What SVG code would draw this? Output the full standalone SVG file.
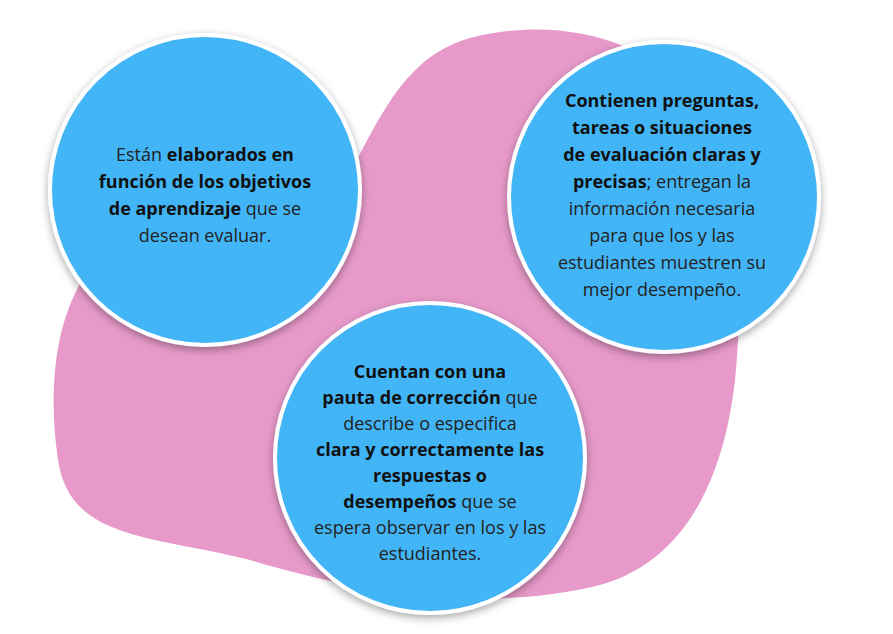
<svg xmlns="http://www.w3.org/2000/svg" width="893" height="634" viewBox="0 0 893 634">
<defs>
<style>
.c{fill:#43B5F6;stroke:#fff;stroke-width:4}
.t{font-family:"Open Sans","Noto Sans",sans-serif;font-size:18px;fill:#222;text-anchor:middle}
.b{font-weight:bold;fill:#111}
</style>
<filter id="sh" x="-20%" y="-20%" width="140%" height="140%"><feDropShadow dx="0" dy="3" stdDeviation="4" flood-color="#000" flood-opacity="0.35"/></filter>
</defs>
<g id="blob">
<path fill="#E79AC9" d="M330,205 C370,150 390,60 470,38 C560,15 640,40 690,90 C740,160 745,280 735,380 C725,470 690,560 600,585 C480,615 350,590 250,560 C150,535 70,540 58,460 C45,370 60,280 120,240 C200,200 290,255 330,205 Z"/>
</g>
<g id="n1">
<circle class="c" cx="205" cy="190" r="155" filter="url(#sh)"/>
<text class="t" y="161"><tspan x="205">Están <tspan class="b">elaborados en</tspan></tspan><tspan x="205" dy="27" class="b">función de los objetivos</tspan><tspan x="205" dy="27"><tspan class="b">de aprendizaje</tspan> que se</tspan><tspan x="205" dy="27">desean evaluar.</tspan></text>
</g>
<g id="n2">
<circle class="c" cx="664" cy="197" r="155" filter="url(#sh)"/>
<text class="t" y="107"><tspan x="662" class="b">Contienen preguntas,</tspan><tspan x="662" dy="27" class="b">tareas o situaciones</tspan><tspan x="662" dy="27" class="b">de evaluación claras y</tspan><tspan x="662" dy="27"><tspan class="b">precisas</tspan>; entregan la</tspan><tspan x="662" dy="27">información necesaria</tspan><tspan x="662" dy="27">para que los y las</tspan><tspan x="662" dy="27">estudiantes muestren su</tspan><tspan x="662" dy="27">mejor desempeño.</tspan></text>
</g>
<g id="n3">
<circle class="c" cx="430" cy="458" r="155" filter="url(#sh)"/>
<text class="t" y="378"><tspan x="430" class="b">Cuentan con una</tspan><tspan x="430" dy="26"><tspan class="b">pauta de corrección</tspan> que</tspan><tspan x="430" dy="26">describe o especifica</tspan><tspan x="430" dy="26" class="b">clara y correctamente las</tspan><tspan x="430" dy="26" class="b">respuestas o</tspan><tspan x="430" dy="26"><tspan class="b">desempeños</tspan> que se</tspan><tspan x="430" dy="26">espera observar en los y las</tspan><tspan x="430" dy="26">estudiantes.</tspan></text>
</g>
<g id="connectors"/>
</svg>
